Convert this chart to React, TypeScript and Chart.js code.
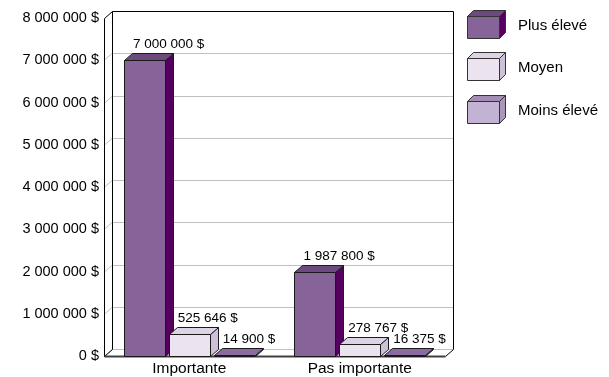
import React, { useEffect, useRef } from 'react';
import { Chart, registerables } from 'chart.js';

Chart.register(...registerables);

const categories = ['Importante', 'Pas importante'];
const seriesNames = ['Plus élevé', 'Moyen', 'Moins élevé'];
const plusEleve = [7000000, 1987800];
const moyen = [525646, 278767];
const moinsEleve = [14900, 16375];
const yMin = 0;
const yMax = 8000000;
const yStep = 1000000;

const frontColors = ['#866399', '#ebe4ef', '#c3b3d3'];
const topColors = ['#6c4a80', '#ddd3e5', '#8c6aa2'];
const sideColors = ['#55005f', '#cdc1d8', '#aa95bc'];
const legendTopColors = ['#6c4a80', '#ddd3e5', '#a48cb7'];

const FONT = '"Liberation Sans", Arial, sans-serif';
const DX = 8;
const DY = 7;

const fmt = (n: number) => String(Math.round(n)).replace(/\B(?=(\d{3})+(?!\d))/g, ' ') + ' $';

function poly(ctx: CanvasRenderingContext2D, pts: number[][], fill: string, stroke = '#1a1a1a') {
  ctx.beginPath();
  ctx.moveTo(pts[0][0], pts[0][1]);
  for (let i = 1; i < pts.length; i++) ctx.lineTo(pts[i][0], pts[i][1]);
  ctx.closePath();
  ctx.fillStyle = fill;
  ctx.fill();
  ctx.strokeStyle = stroke;
  ctx.lineWidth = 1;
  ctx.stroke();
}

function line(ctx: CanvasRenderingContext2D, x1: number, y1: number, x2: number, y2: number) {
  ctx.beginPath();
  ctx.moveTo(x1, y1);
  ctx.lineTo(x2, y2);
  ctx.stroke();
}

const threeD = {
  id: 'threeD',
  beforeDatasetsDraw(chart: any) {
    const { ctx, chartArea: a, scales } = chart;
    const y = scales.y;
    ctx.save();
    ctx.strokeStyle = '#c0c0c0';
    ctx.lineWidth = 1;
    for (let v = yMin; v < yMax; v += yStep) {
      const yy = Math.round(y.getPixelForValue(v)) + 0.5;
      line(ctx, a.left, yy, a.left + DX, yy - DY);
      line(ctx, a.left + DX, yy - DY, a.right + DX, yy - DY);
    }
    ctx.strokeStyle = '#000';
    const L = Math.round(a.left) + 0.5;
    const R = Math.round(a.right) + 0.5;
    const T = Math.round(a.top) + 0.5;
    const B = Math.round(a.bottom) + 0.5;
    line(ctx, L, T, L, B);
    line(ctx, L + DX, T - DY, L + DX, B - DY);
    line(ctx, L, T, L + DX, T - DY);
    line(ctx, L + DX, T - DY, R + DX, T - DY);
    line(ctx, R + DX, T - DY, R + DX, B - DY);
    line(ctx, L, B, L + DX, B - DY);
    line(ctx, R + DX, B - DY, R, B);
    ctx.strokeStyle = '#404040';
    ctx.lineWidth = 2;
    line(ctx, L, B, R, B);
    ctx.restore();
  },
  afterDatasetsDraw(chart: any) {
    const { ctx } = chart;
    const bars: any[] = [];
    chart.data.datasets.forEach((ds: any, di: number) => {
      const meta = chart.getDatasetMeta(di);
      meta.data.forEach((el: any, i: number) => {
        bars.push({ x: el.x, y: el.y, base: el.base, w: el.width, di, v: ds.data[i] });
      });
    });
    bars.sort((p, q) => p.x - q.x);
    ctx.save();
    for (const b of bars) {
      const l = Math.round(b.x - b.w / 2) + 0.5;
      const r = Math.round(b.x + b.w / 2) + 0.5;
      const t = Math.round(b.y) + 0.5;
      const bs = Math.round(b.base) + 0.5;
      poly(ctx, [[l, t], [r, t], [r, bs], [l, bs]], frontColors[b.di]);
      poly(ctx, [[r, t], [r + DX, t - DY], [r + DX, bs - DY], [r, bs]], sideColors[b.di]);
      poly(ctx, [[l, t], [l + DX, t - DY], [r + DX, t - DY], [r, t]], topColors[b.di]);
    }
    ctx.fillStyle = '#000';
    ctx.font = '13.5px ' + FONT;
    ctx.textAlign = 'left';
    ctx.textBaseline = 'middle';
    for (const b of bars) {
      const l = b.x - b.w / 2;
      ctx.fillText(fmt(b.v), l + 9, b.y - DY - 9);
    }
    ctx.restore();
  },
  afterDraw(chart: any) {
    const { ctx } = chart;
    ctx.save();
    const lx = 467;
    const w = 32;
    const h = 22;
    const d = 6;
    const tops = [16, 58, 101];
    seriesNames.forEach((name, i) => {
      const t = tops[i] + 0.5;
      const l = lx + 0.5;
      const r = l + w;
      const bt = t + h;
      poly(ctx, [[l, t], [r, t], [r, bt], [l, bt]], frontColors[i], '#333');
      poly(ctx, [[r, t], [r + d, t - d], [r + d, bt - d], [r, bt]], sideColors[i], '#333');
      poly(ctx, [[l, t], [l + d, t - d], [r + d, t - d], [r, t]], legendTopColors[i], '#333');
      ctx.fillStyle = '#000';
      ctx.font = '15px ' + FONT;
      ctx.textAlign = 'left';
      ctx.textBaseline = 'middle';
      ctx.fillText(name, 518, tops[i] + 10);
    });
    ctx.restore();
  },
};

export default function App() {
  const ref = useRef<HTMLCanvasElement | null>(null);
  useEffect(() => {
    if (!ref.current) return;
    const chart = new Chart(ref.current, {
      type: 'bar',
      data: {
        labels: categories,
        datasets: [plusEleve, moyen, moinsEleve].map((d, i) => ({
          label: seriesNames[i],
          data: d,
          backgroundColor: 'rgba(0,0,0,0)',
          borderWidth: 0,
          barPercentage: 0.91,
          categoryPercentage: 0.79,
        })),
      },
      options: {
        animation: false,
        responsive: false,
        devicePixelRatio: 1,
        layout: { padding: { left: 0, top: 18, right: 164, bottom: 0 } },
        plugins: { legend: { display: false }, tooltip: { enabled: false } },
        scales: {
          x: {
            grid: { display: false, drawTicks: false },
            border: { display: false },
            ticks: { padding: 3, color: '#000', font: { family: FONT, size: 15.5 } },
            afterFit: (s: any) => { s.height = 21; },
          },
          y: {
            min: yMin,
            max: yMax,
            grid: { display: false, drawTicks: false },
            border: { display: false },
            ticks: {
              stepSize: yStep,
              padding: 5,
              color: '#000',
              font: { family: FONT, size: 14.5 },
              callback: (v: any) => fmt(Number(v)),
            },
            afterFit: (s: any) => { s.width = 104; },
          },
        },
      },
      plugins: [threeD],
    });
    return () => chart.destroy();
  }, []);
  return (
    <div style={{ position: 'fixed', left: 0, top: 0, width: 609, height: 377, background: '#fff' }}>
      <canvas ref={ref} width={609} height={377} style={{ display: 'block' }} />
    </div>
  );
}
